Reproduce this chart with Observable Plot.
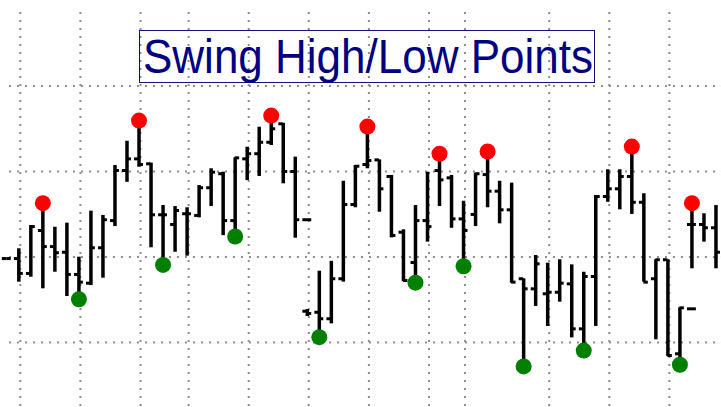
<!DOCTYPE html>
<html><head><meta charset="utf-8">
<script src="https://cdn.jsdelivr.net/npm/d3@7"></script>
<script src="https://cdn.jsdelivr.net/npm/@observablehq/plot@0.6"></script>
<style>
html,body{margin:0;padding:0;background:#fff;}
#wrap{position:relative;width:721px;height:407px;overflow:hidden;}
#chart svg{display:block;}
#box{position:absolute;left:139px;top:30px;width:454px;height:51px;border:1.5px solid #101080;}
#title{position:absolute;left:143px;top:35.5px;font:44px/44px "Liberation Sans",Arial,sans-serif;color:#000080;white-space:nowrap;transform:scale(1,1.08);transform-origin:0 36.5px;}
</style></head><body>
<div id="wrap"><div id="chart"></div><div id="box"></div><div id="title">Swing High/Low Points</div></div>
<script>
// OHLC values, one entry per bar slot (0..59)
const opens  = [29.91,29.91,29.04,31.55,30.61,30.28,28.98,28.47,30.54,32.13,35.06,35.74,35.45,32.47,31.90,32.53,32.43,34.05,34.87,32.13,35.74,36.04,36.71,37.79,35.00,26.83,26.77,26.39,28.73,33.07,35.41,35.68,34.71,31.45,29.68,32.13,35.06,34.63,32.23,32.49,34.82,33.85,32.76,28.73,28.14,27.85,27.94,28.43,25.80,28.86,33.54,33.99,34.71,33.20,28.73,29.84,24.34,31.90,31.90,31.71];
const highs  = [29.91,30.48,31.84,33.15,31.74,31.98,29.99,32.68,32.43,35.35,36.77,37.98,35.49,33.01,32.95,32.88,34.18,35.16,34.96,35.80,36.42,37.59,38.27,37.82,35.84,26.93,29.17,29.75,34.43,35.35,37.63,35.68,34.77,31.59,33.01,34.96,36.04,34.77,33.26,34.90,36.17,34.43,34.32,28.73,30.09,29.64,29.84,29.54,29.11,33.60,35.10,35.10,36.46,33.70,29.84,29.84,27.03,33.15,32.53,33.01];
const lows   = [29.91,28.53,28.82,28.14,29.11,27.69,27.53,28.33,28.76,31.78,34.37,35.25,30.54,29.54,30.28,30.05,32.29,32.95,31.25,31.20,34.47,34.71,36.52,34.28,31.10,26.52,25.31,26.09,28.53,32.88,35.16,32.62,31.12,28.56,28.50,30.87,32.95,31.68,29.46,31.78,32.88,31.94,28.47,23.60,27.11,25.94,27.36,25.27,24.53,25.94,33.20,32.76,32.49,28.53,25.16,24.18,23.70,29.31,30.87,29.31];
const closes = [29.91,29.04,31.78,30.61,30.25,28.98,28.53,30.54,32.18,35.06,35.74,35.41,32.47,32.47,32.72,32.53,34.05,34.96,32.13,35.80,36.04,36.71,37.50,35.00,32.18,26.70,26.39,28.73,33.07,35.31,35.64,33.99,31.26,28.63,32.13,31.78,34.51,32.23,31.55,34.87,33.85,32.76,28.53,28.14,29.60,27.94,28.47,25.80,28.86,33.54,33.99,34.71,33.20,28.53,29.84,24.24,27.03,31.90,31.71,30.28];

// Extra flat bars (dashes) sharing a slot
const extraSlots  = [25, 57];
const extraPrices = [32.18, 26.97];

// Swing points (bar slots)
const swingHighSlots = [3, 11, 22, 30, 36, 40, 52, 57];
const swingLowSlots  = [6, 13, 19, 26, 34, 38, 43, 48, 56];

// Grid positions
const gridSlots  = [1, 6, 11, 15, 20, 25, 30, 35, 38, 45, 50, 55];
const gridPrices = [25, 30, 35, 40];

const bars = opens.map((o, i) => ({slot: i, open: o, high: highs[i], low: lows[i], close: closes[i]}));
const extras = extraSlots.map((s, i) => ({slot: s, price: extraPrices[i]}));
const T = 0.37;
const gridStyle = {stroke: "#8c8c8c", strokeWidth: 2, strokeDasharray: "2,6"};
const barStyle = {stroke: "black", strokeWidth: 3.5};

const chart = Plot.plot({
  width: 721, height: 407, margin: 0,
  x: {domain: [-0.524, 59.46], axis: null},
  y: {domain: [21.2, 45], axis: null},
  marks: [
    Plot.ruleX(gridSlots, {x: d => d, y1: 44.3, y2: 21.2, dx: 1.5, ...gridStyle}),
    Plot.ruleY(gridPrices, {y: d => d, x1: 0.22, x2: 59.46, ...gridStyle}),
    Plot.ruleX(bars, {x: "slot", y1: "low", y2: "high", ...barStyle}),
    Plot.ruleY(bars, {y: "open", x1: d => d.slot - T, x2: "slot", ...barStyle, strokeWidth: 3}),
    Plot.ruleY(bars, {y: "close", x1: "slot", x2: d => d.slot + T, ...barStyle, strokeWidth: 3}),
    Plot.ruleY(extras, {y: "price", x1: d => d.slot - T, x2: d => d.slot + T, ...barStyle, strokeWidth: 3}),
    Plot.dot(swingHighSlots, {x: d => d, y: d => highs[d], r: 8, fill: "#ff0000", stroke: "none"}),
    Plot.dot(swingLowSlots, {x: d => d, y: d => lows[d], r: 8, fill: "#007f00", stroke: "none"})
  ]
});
document.getElementById("chart").appendChild(chart);
</script>
</body></html>
